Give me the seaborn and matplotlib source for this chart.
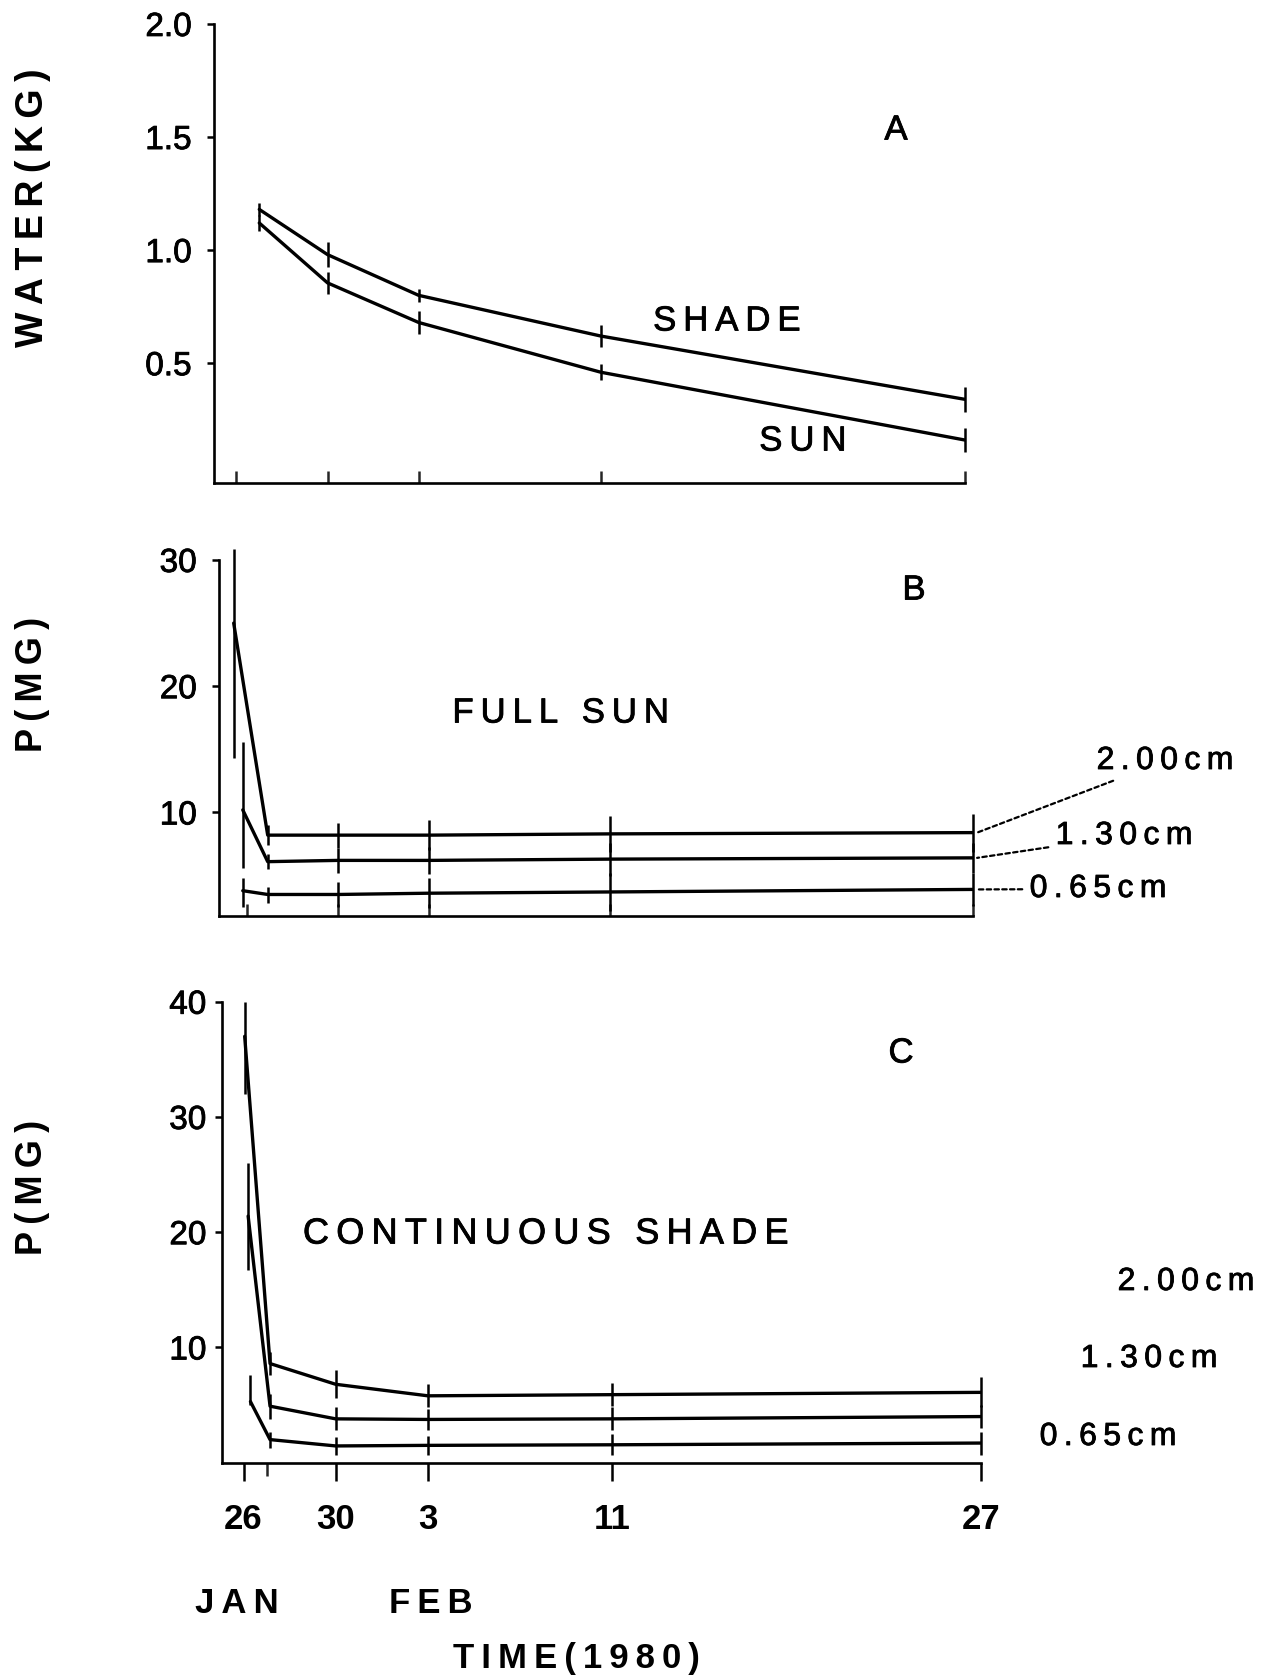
import matplotlib
matplotlib.use("Agg")
import matplotlib.pyplot as plt
import matplotlib.patheffects as pe
import numpy as np
import pandas as pd
import seaborn as sns

# ---- Panel A: water content of logs (kg), days after 26 Jan 1980 ----
a_days = [1, 4, 8, 16, 32]
a_shade = [1.18, 0.98, 0.80, 0.62, 0.34]
a_shade_err = [0.03, 0.055, 0.03, 0.05, 0.055]
a_sun = [1.12, 0.855, 0.68, 0.46, 0.16]
a_sun_err = [0.035, 0.05, 0.05, 0.035, 0.055]

# ---- Panel B: P (mg) in full sun, by twig diameter ----
b_days_200 = [-0.6, 0.9, 4, 8, 16, 32]
b_days_small = [-0.2, 0.9, 4, 8, 16, 32]
b_p200 = [25.0, 8.2, 8.2, 8.2, 8.3, 8.4]
b_p200_lo = [10.7, 0.8, 1.0, 1.2, 1.4, 1.5]
b_p200_hi = [5.9, 0.8, 1.0, 1.2, 1.4, 1.5]
b_p130 = [10.2, 6.1, 6.2, 6.2, 6.3, 6.4]
b_p130_lo = [4.6, 0.6, 1.0, 1.1, 1.3, 1.2]
b_p130_hi = [5.4, 0.6, 1.0, 1.1, 1.3, 1.2]
b_p065 = [3.8, 3.5, 3.5, 3.6, 3.7, 3.9]
b_p065_lo = [1.3, 0.7, 1.0, 1.2, 1.5, 1.3]
b_p065_hi = [1.0, 0.6, 1.0, 1.2, 1.5, 1.3]

# ---- Panel C: P (mg) in continuous shade ----
c_days_200 = [0.05, 1.15, 4, 8, 16, 32]
c_days_130 = [0.2, 1.15, 4, 8, 16, 32]
c_days_065 = [0.3, 1.15, 4, 8, 16, 32]
c_p200 = [37.0, 8.6, 6.8, 5.8, 5.9, 6.1]
c_p200_lo = [5.0, 1.0, 1.2, 1.0, 1.0, 1.3]
c_p200_hi = [3.0, 1.0, 1.2, 1.0, 1.0, 1.3]
c_p130 = [21.4, 4.9, 3.8, 3.75, 3.8, 4.0]
c_p130_lo = [4.7, 1.1, 1.0, 0.9, 1.0, 1.0]
c_p130_hi = [4.6, 1.1, 1.0, 0.9, 1.0, 1.0]
c_p065 = [5.3, 2.0, 1.45, 1.5, 1.55, 1.7]
c_p065_lo = [0.3, 0.7, 0.8, 0.8, 0.9, 1.0]
c_p065_hi = [2.3, 0.7, 0.8, 0.8, 0.9, 1.0]

sizes = ["2.00cm", "1.30cm", "0.65cm"]
tick_days = [0, 4, 8, 16, 32]
tick_names = ["26", "30", "3", "11", "27"]

sns.set_theme(style="ticks")
plt.rcParams["font.family"] = ["Liberation Sans", "DejaVu Sans"]
plt.rcParams["axes.linewidth"] = 1.8

W, H = 1276, 1676
fig = plt.figure(figsize=(W / 100, H / 100), dpi=100)

# slightly heavier strokes for the typewriter-like lettering
HEAVY = [pe.withStroke(linewidth=0.6, foreground="black")]


def fx(px):
    return px / W


def fy(py):
    return 1 - py / H


def spaced(s):
    # letter-spaced lettering
    return "\u2009".join(s)


LW = 2.4
ELW = 1.8


def draw_series(ax, df, err):
    sns.lineplot(data=df, x="day", y="val", hue="series", palette=["black"] * df["series"].nunique(),
                 estimator=None, errorbar=None, lw=LW, legend=False, ax=ax, sort=False)
    for days, vals, lo, hi in err:
        ax.errorbar(days, vals, yerr=[lo, hi], fmt="none", ecolor="black",
                    elinewidth=ELW, capsize=0, clip_on=False)


def style_axis(ax, yticks, ylabels, pad):
    sns.despine(ax=ax)
    ax.set_yticks(yticks)
    ax.set_yticklabels(ylabels)
    ax.tick_params(axis="y", direction="out", length=5, width=1.8, labelsize=24, pad=pad, colors="black")
    for lab in ax.get_yticklabels():
        lab.set_path_effects(HEAVY)
    ax.set_xlabel("")
    ax.set_ylabel("")
    for sp in ax.spines.values():
        sp.set_color("black")
        sp.set_linewidth(1.9)


# ---------------- Panel A ----------------
axA = fig.add_axes([0.1675, 0.7118, 0.5888, 0.2739])
dfA = pd.DataFrame({
    "day": a_days + a_days,
    "val": a_shade + a_sun,
    "series": ["SHADE"] * len(a_days) + ["SUN"] * len(a_days),
})
draw_series(axA, dfA, [(a_days, a_shade, a_shade_err, a_shade_err),
                       (a_days, a_sun, a_sun_err, a_sun_err)])
axA.set_xlim(-1.0, 32)
axA.set_ylim(-0.03, 2.0)
style_axis(axA, [0.5, 1.0, 1.5, 2.0], ["0.5", "1.0", "1.5", "2.0"], 11)
axA.set_xticks(tick_days)
axA.set_xticklabels([])
axA.tick_params(axis="x", direction="in", length=9, width=1.8)

# ---------------- Panel B ----------------
axB = fig.add_axes([0.1716, 0.4535, 0.5906, 0.2124])
dfB = pd.DataFrame({
    "day": b_days_200 + b_days_small + b_days_small,
    "val": b_p200 + b_p130 + b_p065,
    "series": [sizes[0]] * 6 + [sizes[1]] * 6 + [sizes[2]] * 6,
})
draw_series(axB, dfB, [(b_days_200, b_p200, b_p200_lo, b_p200_hi),
                       (b_days_small, b_p130, b_p130_lo, b_p130_hi),
                       (b_days_small, b_p065, b_p065_lo, b_p065_hi)])
axB.set_xlim(-1.25, 32)
axB.set_ylim(1.8, 30)
style_axis(axB, [10, 20, 30], ["10", "20", "30"], 11)
axB.set_xticks(tick_days)
axB.set_xticklabels([])
axB.tick_params(axis="x", direction="in", length=9, width=1.8)

# ---------------- Panel C ----------------
axC = fig.add_axes([0.1737, 0.1273, 0.5951, 0.2750])
dfC = pd.DataFrame({
    "day": c_days_200 + c_days_130 + c_days_065,
    "val": c_p200 + c_p130 + c_p065,
    "series": [sizes[0]] * 6 + [sizes[1]] * 6 + [sizes[2]] * 6,
})
draw_series(axC, dfC, [(c_days_200, c_p200, c_p200_lo, c_p200_hi),
                       (c_days_130, c_p130, c_p130_lo, c_p130_hi),
                       (c_days_065, c_p065, c_p065_lo, c_p065_hi)])
axC.set_xlim(-0.95, 32)
axC.set_ylim(0, 40)
style_axis(axC, [10, 20, 30, 40], ["10", "20", "30", "40"], 6)
axC.set_xticks(tick_days)
axC.set_xticklabels(tick_names, fontsize=25, fontweight="bold")
axC.set_xticks([1], minor=True)
axC.tick_params(axis="x", which="major", direction="out", length=13, width=1.8, pad=16, colors="black")
axC.tick_params(axis="x", which="minor", direction="out", length=9, width=1.8, bottom=True)

# ---------------- lettering ----------------
txt = dict(color="black", ha="center", va="center")
fig.text(fx(33), fy(208), spaced("WATER(KG)"), rotation=90, fontsize=27, fontweight="bold", **txt)
fig.text(fx(33), fy(684), spaced("P(MG)"), rotation=90, fontsize=26, fontweight="bold", **txt)
fig.text(fx(33), fy(1187), spaced("P(MG)"), rotation=90, fontsize=26, fontweight="bold", **txt)

reg = dict(path_effects=HEAVY, **txt)
fig.text(fx(896), fy(130), "A", fontsize=25, **reg)
fig.text(fx(914), fy(590), "B", fontsize=25, **reg)
fig.text(fx(901), fy(1053), "C", fontsize=25, **reg)

fig.text(fx(727), fy(321), spaced("SHADE"), fontsize=25, **reg)
fig.text(fx(803), fy(441), spaced("SUN"), fontsize=25, **reg)
fig.text(fx(561), fy(713), spaced("FULL SUN"), fontsize=25, **reg)
fig.text(fx(546), fy(1234), spaced("CONTINUOUS SHADE"), fontsize=26, **reg)

# diameter labels with dotted leaders in panel B
b_label_pos = [(1165, 761), (1124, 836), (1098, 889)]
b_last = [b_p200[-1], b_p130[-1], b_p065[-1]]
for name, (px, py), v in zip(sizes, b_label_pos, b_last):
    axB.annotate(spaced(name), xy=(32.2, v), xycoords="data",
                 xytext=(fx(px), fy(py)), textcoords="figure fraction",
                 fontsize=23, ha="center", va="center", color="black",
                 annotation_clip=False, path_effects=HEAVY,
                 arrowprops=dict(arrowstyle="-", color="black", lw=1.6,
                                 linestyle=(0, (2.0, 1.5)), shrinkA=3, shrinkB=0))

# diameter labels in panel C
for name, (px, py) in zip(sizes, [(1186, 1282), (1149, 1359), (1108, 1437)]):
    fig.text(fx(px), fy(py), spaced(name), fontsize=23, **reg)

fig.text(fx(237), fy(1603), spaced("JAN"), fontsize=25, fontweight="bold", **txt)
fig.text(fx(431), fy(1603), spaced("FEB"), fontsize=25, fontweight="bold", **txt)
fig.text(fx(576), fy(1658), spaced("TIME(1980)"), fontsize=25, fontweight="bold", **txt)

fig.savefig("out.png", dpi=100, facecolor="white")
